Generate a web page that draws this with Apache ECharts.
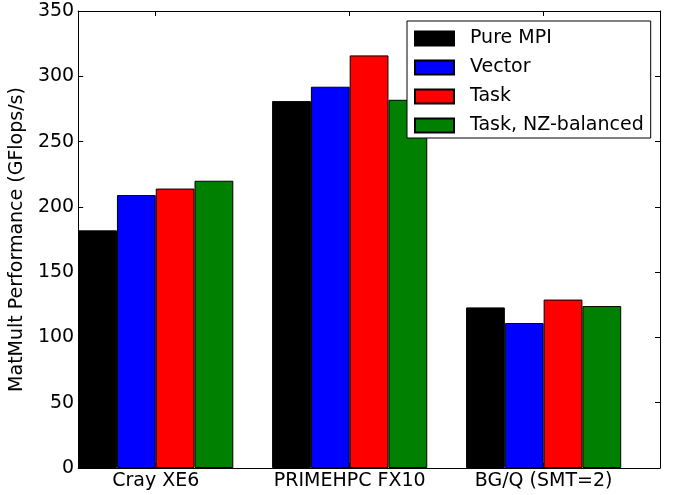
<!DOCTYPE html>
<html>
<head>
<meta charset="utf-8">
<script src="https://cdn.jsdelivr.net/npm/echarts@6/dist/echarts.min.js"></script>
<style>
html,body{margin:0;padding:0;background:#fff;}
#chart{width:673px;height:495px;}
</style>
</head>
<body>
<div id="chart"></div>
<script>
const categories = ['Cray XE6', 'PRIMEHPC FX10', 'BG/Q (SMT=2)'];
const seriesNames = ['Pure MPI', 'Vector', 'Task', 'Task, NZ-balanced'];
const pureMPI = [182, 281, 123];
const vector = [209, 292, 111];
const task = [214, 316, 129];
const taskNZ = [220, 282, 124];
const yTicks = [0, 50, 100, 150, 200, 250, 300, 350];
const colors = ['#000000', '#0000ff', '#ff0000', '#008000'];

const allValues = [pureMPI, vector, task, taskNZ];
const grid = {left: 78, right: 13, top: 11, bottom: 27};
const W = 673;
const xMin = -0.4, xMax = 2.6;
const unitPx = (W - grid.left - grid.right) / (xMax - xMin);
const barUnits = 0.2;
const font = 'DejaVu Sans';
const fs = 19;

const chart = echarts.init(document.getElementById('chart'), null, {renderer: 'canvas'});

const series = allValues.map((vals, s) => ({
  name: seriesNames[s],
  type: 'bar',
  xAxisIndex: 0,
  yAxisIndex: 0,
  barWidth: unitPx * barUnits,
  barGap: '-100%',
  itemStyle: {color: colors[s], borderColor: '#000', borderWidth: 1},
  emphasis: {disabled: true},
  data: vals.map((v, i) => [i + (s - 1.5) * barUnits, v])
}));

const xCommon = {
  type: 'value', min: xMin, max: xMax,
  axisLine: {show: true, onZero: false, lineStyle: {color: '#000', width: 1}},
  axisTick: {show: true, inside: true, length: 5, customValues: [0, 1, 2], lineStyle: {color: '#000'}},
  splitLine: {show: false}
};
const yCommon = {
  type: 'value', min: 0, max: 350, interval: 50,
  axisLine: {show: true, onZero: false, lineStyle: {color: '#000', width: 1}},
  axisTick: {show: true, inside: true, length: 5, lineStyle: {color: '#000'}},
  splitLine: {show: false}
};

chart.setOption({
  animation: false,
  backgroundColor: '#fff',
  grid: grid,
  legend: {
    orient: 'vertical',
    left: 407, top: 21,
    data: seriesNames,
    itemWidth: 39, itemHeight: 14, itemGap: 10,
    padding: [8, 7, 3, 7],
    borderColor: '#000', borderWidth: 1,
    backgroundColor: '#fff',
    icon: 'rect',
    selectedMode: false,
    textStyle: {fontFamily: font, fontSize: fs, color: '#000', padding: [0, 0, 0, 11], lineHeight: 18}
  },
  xAxis: [
    Object.assign({}, xCommon, {
      position: 'bottom',
      axisLabel: {show: true, customValues: [0, 1, 2], margin: 4, fontFamily: font, fontSize: fs, color: '#000',
        formatter: v => categories[Math.round(v)]}
    }),
    Object.assign({}, xCommon, {position: 'top', axisLabel: {show: false}})
  ],
  yAxis: [
    Object.assign({}, yCommon, {
      position: 'left',
      name: 'MatMult Performance (GFlops/s)',
      nameLocation: 'middle', nameGap: 45,
      nameTextStyle: {fontFamily: font, fontSize: fs, color: '#000'},
      axisLabel: {show: true, margin: 4, fontFamily: font, fontSize: fs, color: '#000',
        formatter: v => yTicks.includes(v) ? String(v) : ''}
    }),
    Object.assign({}, yCommon, {position: 'right', axisLabel: {show: false}})
  ],
  series: series
});
</script>
</body>
</html>
